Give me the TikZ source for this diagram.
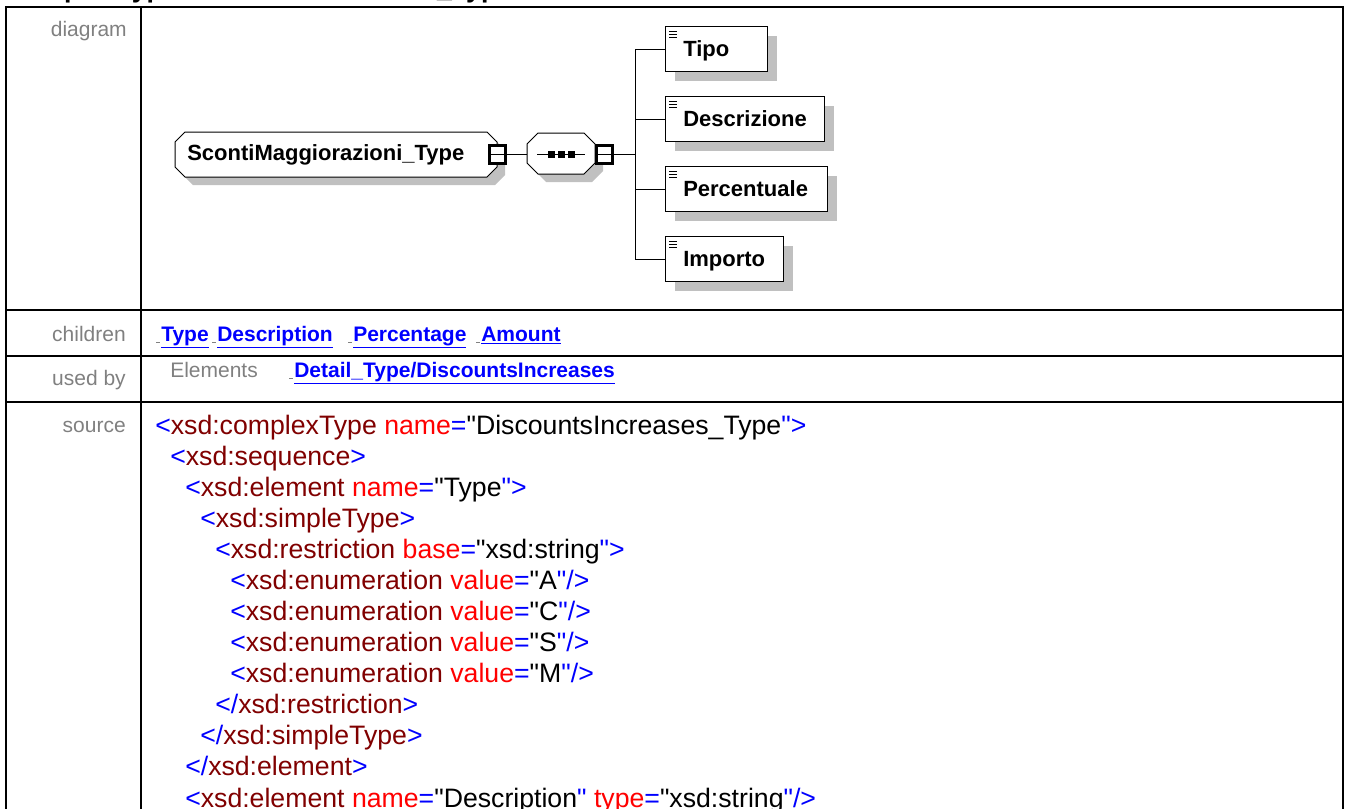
\documentclass[tikz,border=0pt]{standalone}
\usepackage{fontspec}
\setmainfont{Liberation Sans}[Ligatures=TeXOff]
\usetikzlibrary{shadows,calc}
\definecolor{lblgray}{RGB}{128,128,128}
\definecolor{shgray}{RGB}{192,192,192}
\definecolor{lnkblue}{RGB}{0,0,255}
\definecolor{tagred}{RGB}{128,0,0}
\definecolor{attred}{RGB}{255,0,0}
\newcommand\xB[1]{\textcolor{lnkblue}{#1}}
\newcommand\xT[1]{\textcolor{tagred}{#1}}
\newcommand\xA[1]{\textcolor{attred}{#1}}
% octagon: x1 y1 x2 y2 chamfer options
\newcommand\octo[6]{\path[#6] (#1+#5,#2) -- (#3-#5,#2) -- (#3,#2+#5) -- (#3,#4-#5) -- (#3-#5,#4) -- (#1+#5,#4) -- (#1,#4-#5) -- (#1,#2+#5) -- cycle;}
\begin{document}
\begin{tikzpicture}[x=0.75pt,y=-0.75pt,
  tbl/.style={draw=black,line width=1.9pt},
  lbl/.style={font=\fontsize{15.75}{19}\selectfont,text=lblgray,anchor=base east,inner sep=0},
  lnk/.style={font=\fontsize{15.75}{19}\selectfont\bfseries,text=lnkblue,anchor=base west,inner sep=0},
  codeline/.style={font=\fontsize{20}{24}\selectfont,anchor=base west,inner sep=0},
  elem/.style={draw=black,line width=0.75pt,fill=white,minimum height=33.75pt,inner sep=0,anchor=west,
    copy shadow={shadow xshift=6.75pt,shadow yshift=-6.75pt,fill=shgray,draw=none}},
  etext/.style={font=\fontsize{16.5}{20}\selectfont\bfseries,anchor=base west,inner sep=0},
  minusbox/.style={draw=black,line width=2.25pt,fill=white,minimum width=12pt,minimum height=13.5pt,inner sep=0},
  conn/.style={draw=black,line width=0.75pt},
  gmark/.style={draw=lblgray,line width=0.75pt}]
\useasboundingbox (0,0) rectangle (1348,808);

% title (clipped at top)
\node[anchor=base west,inner sep=0,font=\fontsize{20}{24}\selectfont\bfseries] (title) at (9,-3) {complexType DiscountsIncreases\_Type};

% table
\draw[tbl] (6,830) -- (6,7) -- (1343,7) -- (1343,830);
\draw[tbl] (141,7) -- (141,830);
\draw[tbl] (6,310) -- (1343,310);
\draw[tbl] (6,356) -- (1343,356);
\draw[tbl] (6,402) -- (1343,402);

% row labels
\node[lbl] (ldiag) at (127,36) {diagram};
\node[lbl] (lchild) at (126,341) {children};
\node[lbl] (lused) at (126,385) {used by};
\node[lbl] (lsrc) at (126,432) {source};

% diagram: main node
\octo{183}{140}{505}{185}{10}{fill=shgray}
\octo{175}{132}{497}{177}{10}{draw=black,line width=0.75pt,fill=white}
\node[inner sep=0,minimum width=241.5pt,minimum height=33.75pt] (main) at (336,154.5) {};
\node[etext] (mainlbl) at (187,160) {ScontiMaggiorazioni\_Type};

% sequence node
\octo{535}{141}{603}{182}{11}{fill=shgray}
\octo{527}{133}{595}{174}{11}{draw=black,line width=0.75pt,fill=white}
\node[inner sep=0,minimum width=51pt,minimum height=30.75pt] (seq) at (561,154) {};
\draw[conn] (537,154) -- (585,154);
\fill (548,151) rectangle (555,158);
\fill (558,151) rectangle (565,158);
\fill (568,151) rectangle (575,158);

% minus boxes
\node[minusbox] (msq) at (497.5,154) {};
\draw[conn] (msq.west) -- (msq.east);
\node[minusbox] (ssq) at (604.5,154) {};
\draw[conn] (ssq.west) -- (ssq.east);

% elements
\node[elem,minimum width=76.5pt] (tipo) at (665,49) {};
\node[elem,minimum width=119.25pt] (descr) at (665,119) {};
\node[elem,minimum width=121.5pt] (perc) at (665,189) {};
\node[elem,minimum width=88.5pt] (imp) at (665,259) {};
\node[etext] (ttipo) at (683,56.5) {Tipo};
\node[etext] (tdescr) at (683,126.5) {Descrizione};
\node[etext] (tperc) at (683,196.5) {Percentuale};
\node[etext] (timp) at (683,266.5) {Importo};
\foreach \n in {tipo,descr,perc,imp}{
  \foreach \d in {5,8,11}{
    \draw[line width=0.6pt] ($(\n.north west)+(4,\d)$) -- ++(8,0);
  }
}

% connectors
\coordinate (bus) at (635,154);
\draw[conn] (msq.east) -- (seq.west);
\draw[conn] (ssq.east) -- (bus);
\draw[conn] (tipo.west) -| (bus) |- (imp.west);
\draw[conn] (descr.west) -- (descr.west -| bus);
\draw[conn] (perc.west) -- (perc.west -| bus);

% children row
\node[lnk] (lType) at (161,341) {\underline{Type}};
\node[lnk] (lDesc) at (217,341) {\underline{Description}};
\node[lnk] (lPerc) at (353,341) {\underline{Percentage}};
\node[lnk] (lAmt) at (481,341) {\underline{Amount}};
\foreach \n in {lType,lDesc,lPerc,lAmt}{
  \draw[gmark] ($(\n.base west)+(-5,1)$) -- ++(4,0);
}

% used by row
\node[lbl,anchor=base west] (lelem) at (170,377) {Elements};
\node[lnk] (lDetail) at (294,377) {\underline{Detail\_Type/DiscountsIncreases}};
\draw[gmark] ($(lDetail.base west)+(-5,1)$) -- ++(4,0);

% source code
\node[codeline] (c1) at (155,434) {\xB{<}\xT{xsd:complexType} \xA{name}\xB{=}"DiscountsIncreases\_Type\xB{">}};
\node[codeline] (c2) at (170,465.1) {\xB{<}\xT{xsd:sequence}\xB{>}};
\node[codeline] (c3) at (185,496.2) {\xB{<}\xT{xsd:element} \xA{name}\xB{=}"Type\xB{">}};
\node[codeline] (c4) at (200,527.2) {\xB{<}\xT{xsd:simpleType}\xB{>}};
\node[codeline] (c5) at (215,558.3) {\xB{<}\xT{xsd:restriction} \xA{base}\xB{=}"xsd:string\xB{">}};
\node[codeline] (c6) at (230,589.4) {\xB{<}\xT{xsd:enumeration} \xA{value}\xB{=}"A\xB{"/>}};
\node[codeline] (c7) at (230,620.5) {\xB{<}\xT{xsd:enumeration} \xA{value}\xB{=}"C\xB{"/>}};
\node[codeline] (c8) at (230,651.6) {\xB{<}\xT{xsd:enumeration} \xA{value}\xB{=}"S\xB{"/>}};
\node[codeline] (c9) at (230,682.6) {\xB{<}\xT{xsd:enumeration} \xA{value}\xB{=}"M\xB{"/>}};
\node[codeline] (c10) at (215,713.7) {\xB{</}\xT{xsd:restriction}\xB{>}};
\node[codeline] (c11) at (200,744.8) {\xB{</}\xT{xsd:simpleType}\xB{>}};
\node[codeline] (c12) at (185,775.9) {\xB{</}\xT{xsd:element}\xB{>}};
\node[codeline] (c13) at (185,807) {\xB{<}\xT{xsd:element} \xA{name}\xB{=}"Description\xB{"} \xA{type}\xB{=}"xsd:string\xB{"/>}};
\end{tikzpicture}
\end{document}
